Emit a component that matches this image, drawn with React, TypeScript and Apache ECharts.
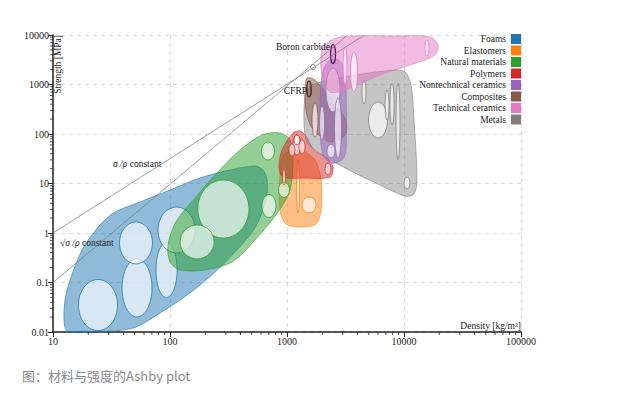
import React, { useEffect, useRef } from 'react';
import * as echarts from 'echarts';

const categories = ['Foams', 'Elastomers', 'Natural materials', 'Polymers', 'Nontechnical ceramics', 'Composites', 'Technical ceramics', 'Metals'];
const palette = ['#1f77b4', '#ff7f0e', '#2ca02c', '#d62728', '#9467bd', '#8c564b', '#e377c2', '#7f7f7f'];

// Envelopes: [density kg/m3, strength MPa]
const foamsEnvelope = [[13.2, 0.0105], [12.4, 0.022], [12.9, 0.0558], [14.5, 0.142], [17.7, 0.454], [21.5, 0.912], [26.7, 1.67], [33.9, 2.66], [50.2, 3.85], [100, 7.4], [180, 12.9], [326, 18.7], [532, 22.6], [624, 18.7], [675, 11.8], [662, 4.64], [532, 1.26], [359, 0.413], [243, 0.163], [148, 0.0613], [82.2, 0.0242], [48.3, 0.012], [22.9, 0.0101]];
const elastomersEnvelope = [[925, 37.7], [1291, 47.5], [1734, 29.9], [1954, 11.8], [1954, 2.92], [1770, 1.52], [1291, 1.32], [980, 1.52], [871, 2.92], [871, 14.9]];
const naturalEnvelope = [[100, 0.26], [96.2, 0.573], [112, 1.67], [164, 5.1], [243, 14.9], [396, 47.5], [611, 95.5], [871, 105], [1062, 75.7], [1125, 29.9], [1062, 7.4], [838, 2.66], [532, 0.722], [339, 0.26], [199, 0.179], [122, 0.179]];
const polymersEnvelope = [[1125, 105], [1291, 115], [1452, 91.2], [1702, 47.5], [2198, 32.7], [2472, 21.5], [2333, 13.5], [1426, 12.9], [925, 13.5], [855, 20.6], [906, 47.5]];
const nontechEnvelope = [[1991, 1556], [2239, 2851], [2673, 3273], [3069, 2154], [3192, 774], [3192, 47.5], [2951, 29.9], [2427, 25.9], [2032, 37.7], [1914, 192]];
const compositesEnvelope = [[1483, 1353], [1734, 1233], [3133, 210], [3133, 95.5], [2333, 68.9], [1637, 132], [1452, 305], [1426, 774]];
const techEnvelope = [[2113, 6285], [2838, 9120], [9247, 9550], [16680, 9120], [19540, 6285], [18410, 3946], [11250, 2477], [6237, 1556], [3451, 849], [2333, 705], [1991, 1556], [1954, 3946]];
const metalsEnvelope = [[1426, 614], [1637, 977], [3451, 1486], [8375, 1963], [10200, 1790], [11480, 977], [12170, 192], [12910, 11.8], [12170, 6.14], [10200, 5.58], [6237, 9.33], [3133, 20.6], [1841, 43.3], [1452, 75.7]];

// Material ranges: [density min, density max, strength min, strength max]
const foamsRanges = [[16.5, 35.6, 0.0107, 0.115], [38.9, 70.2, 0.0201, 0.299], [37, 70.8, 0.237, 1.67], [75.9, 115, 0.0498, 0.643], [78.9, 164, 0.394, 3.35]];
const elastomersRanges = [[1343, 1770, 2.54, 5.34], [1205, 1279, 2.54, 31.3]];
const naturalRanges = [[173, 473, 0.792, 11.8], [122, 238, 0.299, 1.45], [611, 805, 2.06, 6.0], [846, 1050, 5.22, 10.5], [605, 781, 29.9, 68.9]];
const polymersRanges = [[1125, 1316, 37.7, 95.5], [1040, 1170, 35.9, 62.8], [1266, 1426, 39.4, 75.7], [1148, 1291, 60, 95.5], [2113, 2377, 14.9, 25.9], [915, 971, 9.33, 19.6]];
const nontechRanges = [[2153, 2838, 278, 2154], [2547, 2924, 32.7, 534], [2198, 2570, 33.5, 61.4], [1897, 2094, 75.7, 368]];
const compositesRanges = [[1637, 1841, 86.9, 423]];
const techRanges = [[3013, 3258, 977, 5728], [3488, 4009, 705, 4541], [15100, 16360, 3767, 7925]];
const metalsRanges = [[4977, 7228, 83, 443], [4375, 4732, 404, 1233], [6887, 7447, 192, 774], [7586, 8222, 152, 1072], [8551, 9247, 29.9, 1072], [10000, 11250, 7.74, 13.5]];

const boronCarbide = [2355, 2600, 2655, 6427];
const cfrp = [1477, 1610, 559, 1178];

// Guide lines
const specificStrengthLine = [[10, 1], [4600, 10000]];
const sqrtStrengthLine = [[10, 0.1], [3300, 10000]];
const pivotPoint = [[1668, 2259]];

// Annotations
const annotationPoints = [[2333, 5728], [1483, 739], [32.6, 24.8], [11.5, 0.628]];
const annotationTexts = ['Boron carbide', 'CFRP', '{i|σ /ρ} constant', '√{i|σ /ρ} constant'];

// Ticks
const minorSteps = [2, 3, 4, 5, 6, 7, 8, 9];
const xDecades = [10, 100, 1000, 10000];
const yDecades = [0.01, 0.1, 1, 10, 100, 1000];

const envelopes = [foamsEnvelope, elastomersEnvelope, naturalEnvelope, polymersEnvelope, nontechEnvelope, compositesEnvelope, techEnvelope, metalsEnvelope];
const ranges = [foamsRanges, elastomersRanges, naturalRanges, polymersRanges, nontechRanges, compositesRanges, techRanges, metalsRanges];

// drawing order of the categories (bottom to top) and fill opacity
const drawOrder = [0, 1, 2, 3, 7, 5, 4, 6];
const fillAlpha = [0.5, 0.5, 0.5, 0.5, 0.5, 0.5, 0.5, 0.45];

const SERIF = '"Liberation Serif", "Times New Roman", serif';
const annotationAlign = ['right', 'right', 'left', 'left'];

function rgba(hex: string, a: number) {
  const n = parseInt(hex.slice(1), 16);
  return `rgba(${n >> 16},${(n >> 8) & 255},${n & 255},${a})`;
}

function fmt(v: number) {
  return String(Number(v.toPrecision(6)));
}

function ellipseRenderer(stroke: string, fill: string, lw: number) {
  return (params: any, api: any) => {
    const p1 = api.coord([api.value(0), api.value(3)]);
    const p2 = api.coord([api.value(1), api.value(2)]);
    return {
      type: 'ellipse',
      shape: {
        cx: (p1[0] + p2[0]) / 2,
        cy: (p1[1] + p2[1]) / 2,
        rx: Math.abs(p2[0] - p1[0]) / 2,
        ry: Math.abs(p2[1] - p1[1]) / 2,
      },
      style: { fill, stroke, lineWidth: lw },
    };
  };
}

export default function App() {
  const ref = useRef<HTMLDivElement>(null);
  useEffect(() => {
    if (!ref.current) return;
    const chart = echarts.init(ref.current, null, { renderer: 'svg' });
    const series: any[] = [];
    series.push({
      type: 'line', name: 'sigma/rho', data: specificStrengthLine, showSymbol: false, silent: true,
      lineStyle: { color: '#777', width: 0.7 },
    });
    series.push({
      type: 'line', name: 'sqrt sigma/rho', data: sqrtStrengthLine, showSymbol: false, silent: true,
      lineStyle: { color: '#777', width: 0.7 },
    });
    drawOrder.forEach((i) => {
      const cat = categories[i];
      const env = envelopes[i];
      const col = palette[i];
      series.push({
        type: 'custom', name: cat, coordinateSystem: 'cartesian2d', itemStyle: { color: col },
        data: env, silent: true,
        renderItem: (params: any, api: any) => {
          if (params.dataIndex !== 0) return null;
          return {
            type: 'polygon',
            shape: { points: env.map((p) => api.coord(p)), smooth: 0.3 },
            style: { fill: rgba(col, fillAlpha[i]), stroke: rgba(col, 0.75), lineWidth: 0.8 },
          };
        },
      });
      series.push({
        type: 'custom', name: cat + ' ranges', coordinateSystem: 'cartesian2d', silent: true,
        data: ranges[i], encode: { x: [0, 1], y: [2, 3] },
        renderItem: ellipseRenderer(col, 'rgba(255,255,255,0.65)', 0.8),
      });
    });
    series.push({
      type: 'custom', name: 'highlight', coordinateSystem: 'cartesian2d', silent: true,
      data: [boronCarbide], encode: { x: [0, 1], y: [2, 3] },
      renderItem: ellipseRenderer('#4b1f5e', 'rgba(227,119,194,0.4)', 1.2),
    });
    series.push({
      type: 'custom', name: 'highlight2', coordinateSystem: 'cartesian2d', silent: true,
      data: [cfrp], encode: { x: [0, 1], y: [2, 3] },
      renderItem: ellipseRenderer('#2e211b', 'rgba(140,86,75,0.3)', 1.2),
    });
    series.push({
      type: 'scatter', name: 'pivot', data: pivotPoint, symbol: 'circle', symbolSize: 5, silent: true,
      itemStyle: { color: '#fff', borderColor: '#555', borderWidth: 0.8 },
    });
    series.push({
      type: 'custom', name: 'annotations', coordinateSystem: 'cartesian2d', silent: true,
      data: annotationPoints,
      renderItem: (params: any, api: any) => {
        const p = api.coord([api.value(0), api.value(1)]);
        return {
          type: 'text', x: p[0], y: p[1],
          style: {
            text: annotationTexts[params.dataIndex],
            fill: '#222', fontSize: 9.5, fontFamily: SERIF,
            align: annotationAlign[params.dataIndex], verticalAlign: 'middle',
            rich: { i: { fontStyle: 'italic', fontSize: 9.5, fontFamily: SERIF, fill: '#222' } },
          },
        };
      },
    });
    series.push({
      type: 'custom', name: 'minor ticks', coordinateSystem: 'cartesian2d', silent: true,
      data: [[10, 0.01]],
      renderItem: (params: any, api: any) => {
        const children: any[] = [];
        xDecades.forEach((d) => minorSteps.forEach((m) => {
          const p = api.coord([d * m, 0.01]);
          children.push({ type: 'line', shape: { x1: p[0], y1: p[1], x2: p[0], y2: p[1] + 3 }, style: { stroke: '#222', lineWidth: 0.8 } });
        }));
        yDecades.forEach((d) => minorSteps.forEach((m) => {
          const p = api.coord([10, d * m]);
          children.push({ type: 'line', shape: { x1: p[0] - 3, y1: p[1], x2: p[0], y2: p[1] }, style: { stroke: '#222', lineWidth: 0.8 } });
        }));
        return { type: 'group', children };
      },
    });

    chart.setOption({
      animation: false,
      color: palette,
      backgroundColor: '#fff',
      title: {
        text: '图：材料与强度的Ashby plot', left: 17, top: 364,
        textStyle: { fontSize: 13, fontWeight: 'normal', color: '#8a8a8a', fontFamily: '"Noto Sans CJK SC", sans-serif' },
      },
      grid: { left: 53, right: 99, top: 35, bottom: 61 },
      legend: {
        data: categories, orient: 'vertical', right: 99, top: 34, align: 'right', icon: 'rect',
        itemWidth: 10, itemHeight: 10, itemGap: 1.5, padding: 0, selectedMode: false,
        textStyle: { fontFamily: SERIF, fontSize: 9.5, color: '#222', lineHeight: 10 },
      },
      xAxis: {
        type: 'log', logBase: 10, min: 10, max: 100000,
        axisLine: { lineStyle: { color: '#222', width: 1.5 } },
        axisTick: { length: 5, lineStyle: { color: '#222', width: 1 } },
        axisLabel: { margin: 4, fontFamily: SERIF, fontSize: 10, color: '#222', formatter: (v: number) => fmt(v) },
        splitLine: { show: true, lineStyle: { color: '#d8d8d8', type: [4, 4], width: 1 } },
      },
      yAxis: {
        type: 'log', logBase: 10, min: 0.01, max: 10000,
        axisLine: { lineStyle: { color: '#222', width: 1.5 } },
        axisTick: { length: 5, lineStyle: { color: '#222', width: 1 } },
        axisLabel: { margin: 4, fontFamily: SERIF, fontSize: 10, color: '#222', padding: [0, 0, 4, 0], formatter: (v: number) => fmt(v) },
        splitLine: { show: true, lineStyle: { color: '#d8d8d8', type: [4, 4], width: 1 } },
      },
      graphic: [
        {
          type: 'text', x: 58, y: 35, rotation: Math.PI / 2,
          style: { text: 'Strength [MPa]', fontFamily: SERIF, fontSize: 9.5, fill: '#222', align: 'right', verticalAlign: 'middle' },
        },
        {
          type: 'text', x: 521, y: 326,
          style: { text: 'Density [kg/m³]', fontFamily: SERIF, fontSize: 9.5, fill: '#222', align: 'right', verticalAlign: 'middle' },
        },
      ],
      series,
    });
    return () => chart.dispose();
  }, []);
  return (
    <div style={{ position: 'fixed', left: 0, top: 0, width: 620, height: 393, background: '#fff' }}>
      <div ref={ref} style={{ width: 620, height: 393 }} />
    </div>
  );
}
